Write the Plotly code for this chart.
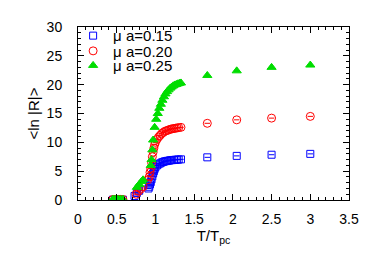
import plotly.graph_objects as go

labels = ["μ a=0.15", "μ a=0.20", "μ a=0.25"]
colors = ["#0000ff", "#ff0000", "#00dd00"]

x015 = [0.45, 0.48, 0.50, 0.52, 0.55, 0.58, 0.73, 0.76, 0.79,
        0.91, 0.92, 0.93, 0.94, 0.95, 0.96, 0.97, 0.98, 0.99, 1.00, 1.02, 1.04, 1.06, 1.08,
        1.10, 1.12, 1.14, 1.16, 1.18, 1.20, 1.22, 1.24, 1.26, 1.28, 1.30, 1.33,
        1.67, 2.05, 2.50, 3.00]
y015 = [0.05, 0.05, 0.05, 0.05, 0.05, 0.05, 0.7, 1.2, 1.6,
        2.0, 2.3, 2.7, 3.1, 3.6, 4.1, 4.6, 5.0, 5.4, 5.7, 6.0, 6.2, 6.35, 6.5,
        6.6, 6.7, 6.75, 6.8, 6.85, 6.9, 6.92, 6.95, 6.97, 7.0, 7.02, 7.05,
        7.4, 7.65, 7.85, 8.0]

x020 = [0.45, 0.48, 0.50, 0.52, 0.55, 0.58, 0.75, 0.78, 0.81, 0.84,
        0.90, 0.92, 0.93, 0.94, 0.95, 0.96, 0.97, 0.98, 0.99, 1.00, 1.02, 1.04, 1.06, 1.08,
        1.10, 1.12, 1.14, 1.16, 1.18, 1.20, 1.22, 1.24, 1.26, 1.28, 1.30, 1.33,
        1.67, 2.05, 2.50, 3.00]
y020 = [0.1, 0.1, 0.1, 0.1, 0.1, 0.1, 1.0, 1.5, 1.9, 2.3,
        3.5, 4.0, 4.8, 5.5, 6.5, 7.5, 8.3, 9.0, 9.6, 10.0, 10.5, 10.9, 11.2, 11.5,
        11.7, 11.9, 12.0, 12.1, 12.2, 12.3, 12.35, 12.4, 12.45, 12.5, 12.55, 12.6,
        13.3, 13.9, 14.2, 14.5]

x025 = [0.45, 0.48, 0.50, 0.52, 0.55, 0.58, 0.76, 0.79, 0.82, 0.84,
        0.94, 0.95, 0.96, 0.97, 0.99, 1.01, 1.03, 1.05, 1.07, 1.09,
        1.11, 1.13, 1.15, 1.17, 1.19, 1.21, 1.23, 1.25, 1.27, 1.29, 1.31, 1.33,
        1.67, 2.05, 2.50, 3.00]
y025 = [0.15, 0.15, 0.15, 0.15, 0.15, 0.15, 2.2, 2.7, 3.2, 3.5,
        6.0, 7.0, 8.7, 10.4, 12.6, 14.0, 15.0, 15.9, 16.6, 17.3,
        17.9, 18.4, 18.8, 19.1, 19.4, 19.6, 19.8, 19.95, 20.05, 20.15, 20.25, 20.3,
        21.6, 22.4, 23.0, 23.4]

xs = [x015, x020, x025]
ys = [y015, y020, y025]
symbols = ["square-open", "circle-open", "triangle-up"]
sizes = [7, 8, 8]
legend_ids = ["legend", "legend2", "legend3"]
legend_y = [1.044, 0.956, 0.872]

FONT = "Liberation Sans, Arial, sans-serif"

fig = go.Figure()
for x, y, lab, c, s, sz, lg in zip(xs, ys, labels, colors, symbols, sizes, legend_ids):
    fig.add_trace(go.Scatter(
        x=x, y=y, mode="markers", name=lab, legend=lg, showlegend=True,
        marker=dict(symbol=s, size=sz, color=c, line=dict(width=1, color=c)),
        error_x=dict(type="constant", value=0.035, width=0, thickness=1, color=c),
    ))

axis_common = dict(
    showline=True, linecolor="black", linewidth=1, mirror="allticks",
    ticks="inside", ticklen=6, tickcolor="black", tickwidth=1,
    showgrid=False, zeroline=False, automargin=False,
    tickfont=dict(family=FONT, size=14, color="black"),
)
fig.update_xaxes(
    range=[0, 3.5], tickvals=[0, 0.5, 1, 1.5, 2, 2.5, 3, 3.5],
    ticktext=["0", "0.5", "1", "1.5", "2", "2.5", "3", "3.5"],
    minor=dict(dtick=0.1, ticks="inside", ticklen=3, tickcolor="black"),
    title=dict(text="T/T<sub>pc</sub>", font=dict(family=FONT, size=15, color="black"), standoff=4),
    ticklabelstandoff=6,
    **axis_common,
)
fig.update_yaxes(
    range=[0, 30], dtick=5,
    minor=dict(dtick=1, ticks="inside", ticklen=3, tickcolor="black"),
    title=dict(text="<ln |R|>", font=dict(family=FONT, size=15, color="black"), standoff=3),
    ticklabelstandoff=12,
    **axis_common,
)
leg_common = dict(x=-0.018, xanchor="left", yanchor="top",
                  bgcolor="rgba(0,0,0,0)", font=dict(family=FONT, size=15, color="black"))
fig.update_layout(
    width=382, height=267,
    margin=dict(l=70, r=41, t=11, b=75),
    showlegend=True,
    plot_bgcolor="white", paper_bgcolor="white",
    legend=dict(y=legend_y[0], **leg_common),
    legend2=dict(y=legend_y[1], **leg_common),
    legend3=dict(y=legend_y[2], **leg_common),
)
fig.write_html("out.html")
